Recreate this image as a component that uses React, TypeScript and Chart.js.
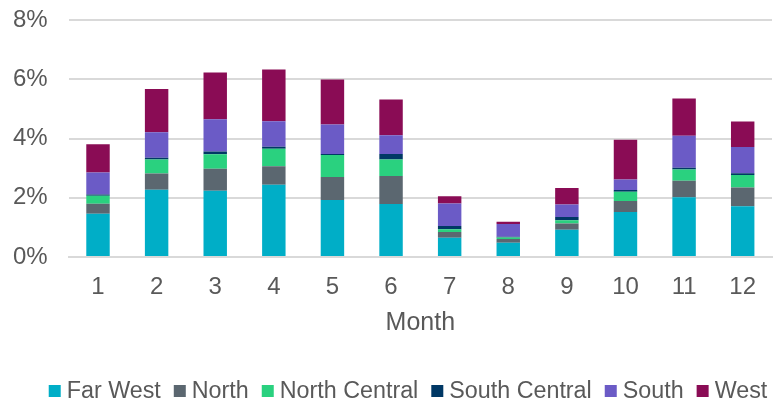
import React, { useEffect, useRef } from "react";
import { Chart, registerables } from "chart.js";

Chart.register(...registerables);

const months = ["1", "2", "3", "4", "5", "6", "7", "8", "9", "10", "11", "12"];
const farWest = [1.46, 2.27, 2.24, 2.44, 1.92, 1.79, 0.65, 0.48, 0.92, 1.52, 2.02, 1.71];
const north = [0.34, 0.55, 0.74, 0.62, 0.78, 0.94, 0.19, 0.13, 0.21, 0.37, 0.55, 0.64];
const northCentral = [0.27, 0.47, 0.49, 0.59, 0.74, 0.56, 0.1, 0.05, 0.11, 0.31, 0.38, 0.42];
const southCentral = [0.04, 0.06, 0.09, 0.07, 0.04, 0.19, 0.11, 0.02, 0.11, 0.06, 0.06, 0.06];
const south = [0.74, 0.86, 1.09, 0.86, 0.99, 0.63, 0.76, 0.43, 0.42, 0.36, 1.08, 0.88];
const west = [0.96, 1.46, 1.58, 1.75, 1.52, 1.21, 0.24, 0.08, 0.56, 1.34, 1.26, 0.86];

const seriesNames = ["Far West", "North", "North Central", "South Central", "South", "West"];
const seriesColors = ["#00AEC7", "#5B6770", "#2AD17F", "#003865", "#6B5BC6", "#8A0C55"];

const FONT = "'Liberation Sans', Arial, sans-serif";
const TEXT = "#595959";

const legendPlugin = {
  id: "customLegend",
  afterDraw(chart: any) {
    const ctx = chart.ctx as CanvasRenderingContext2D;
    const size = 23.3;
    const box = 12;
    const gapBoxText = 6;
    const gapItems = 13;
    const centerX = 408;
    const centerY = 391;
    ctx.save();
    ctx.font = `${size}px ${FONT}`;
    const items = chart.data.datasets.map((d: any) => ({
      label: d.label as string,
      color: d.backgroundColor as string,
      w: ctx.measureText(d.label).width,
    }));
    const total =
      items.reduce((s: number, it: any) => s + box + gapBoxText + it.w, 0) + gapItems * (items.length - 1);
    let x = centerX - total / 2;
    ctx.textBaseline = "middle";
    ctx.textAlign = "left";
    for (const it of items) {
      ctx.fillStyle = it.color;
      ctx.fillRect(x, centerY - box / 2, box, box);
      x += box + gapBoxText;
      ctx.fillStyle = TEXT;
      ctx.fillText(it.label, x, centerY + 1);
      x += it.w + gapItems;
    }
    ctx.restore();
  },
};

export default function App() {
  const ref = useRef<HTMLCanvasElement | null>(null);
  useEffect(() => {
    document.body.style.margin = "0";
    const values = [farWest, north, northCentral, southCentral, south, west];
    const chart = new Chart(ref.current!, {
      type: "bar",
      data: {
        labels: months,
        datasets: values.map((v, i) => ({
          label: seriesNames[i],
          data: v,
          backgroundColor: seriesColors[i],
          borderWidth: 0,
          barPercentage: 0.4,
          categoryPercentage: 1,
        })),
      },
      plugins: [legendPlugin],
      options: {
        animation: false,
        responsive: false,
        maintainAspectRatio: false,
        layout: { padding: { top: 20, right: 7, left: 0, bottom: 65 } },
        plugins: {
          legend: { display: false },
          tooltip: { enabled: false },
        },
        scales: {
          x: {
            stacked: true,
            grid: { display: false },
            border: { display: true, color: "#d9d9d9", width: 2 },
            ticks: { color: TEXT, font: { family: FONT, size: 24 }, padding: 8 },
            title: {
              display: true,
              text: "Month",
              color: TEXT,
              font: { family: FONT, size: 25 },
              padding: { top: 0, bottom: 0 },
            },
            afterFit: (s: any) => {
              s.height = 81;
              s.paddingLeft = 0;
              s.paddingRight = 0;
            },
          },
          y: {
            stacked: true,
            min: 0,
            max: 8,
            ticks: {
              stepSize: 2,
              color: TEXT,
              font: { family: FONT, size: 24 },
              padding: 21,
              callback: (v: any) => v + "%",
            },
            grid: { color: "#d9d9d9", lineWidth: 2, drawTicks: false },
            border: { display: false },
            afterFit: (s: any) => {
              s.width = 68.7;
              s.paddingTop = 0;
              s.paddingBottom = 0;
            },
          },
        },
      },
    });
    return () => chart.destroy();
  }, []);
  return (
    <div style={{ position: "absolute", left: 0, top: 0, width: 779, height: 403 }}>
      <canvas ref={ref} width={779} height={403} style={{ width: 779, height: 403 }} />
    </div>
  );
}
